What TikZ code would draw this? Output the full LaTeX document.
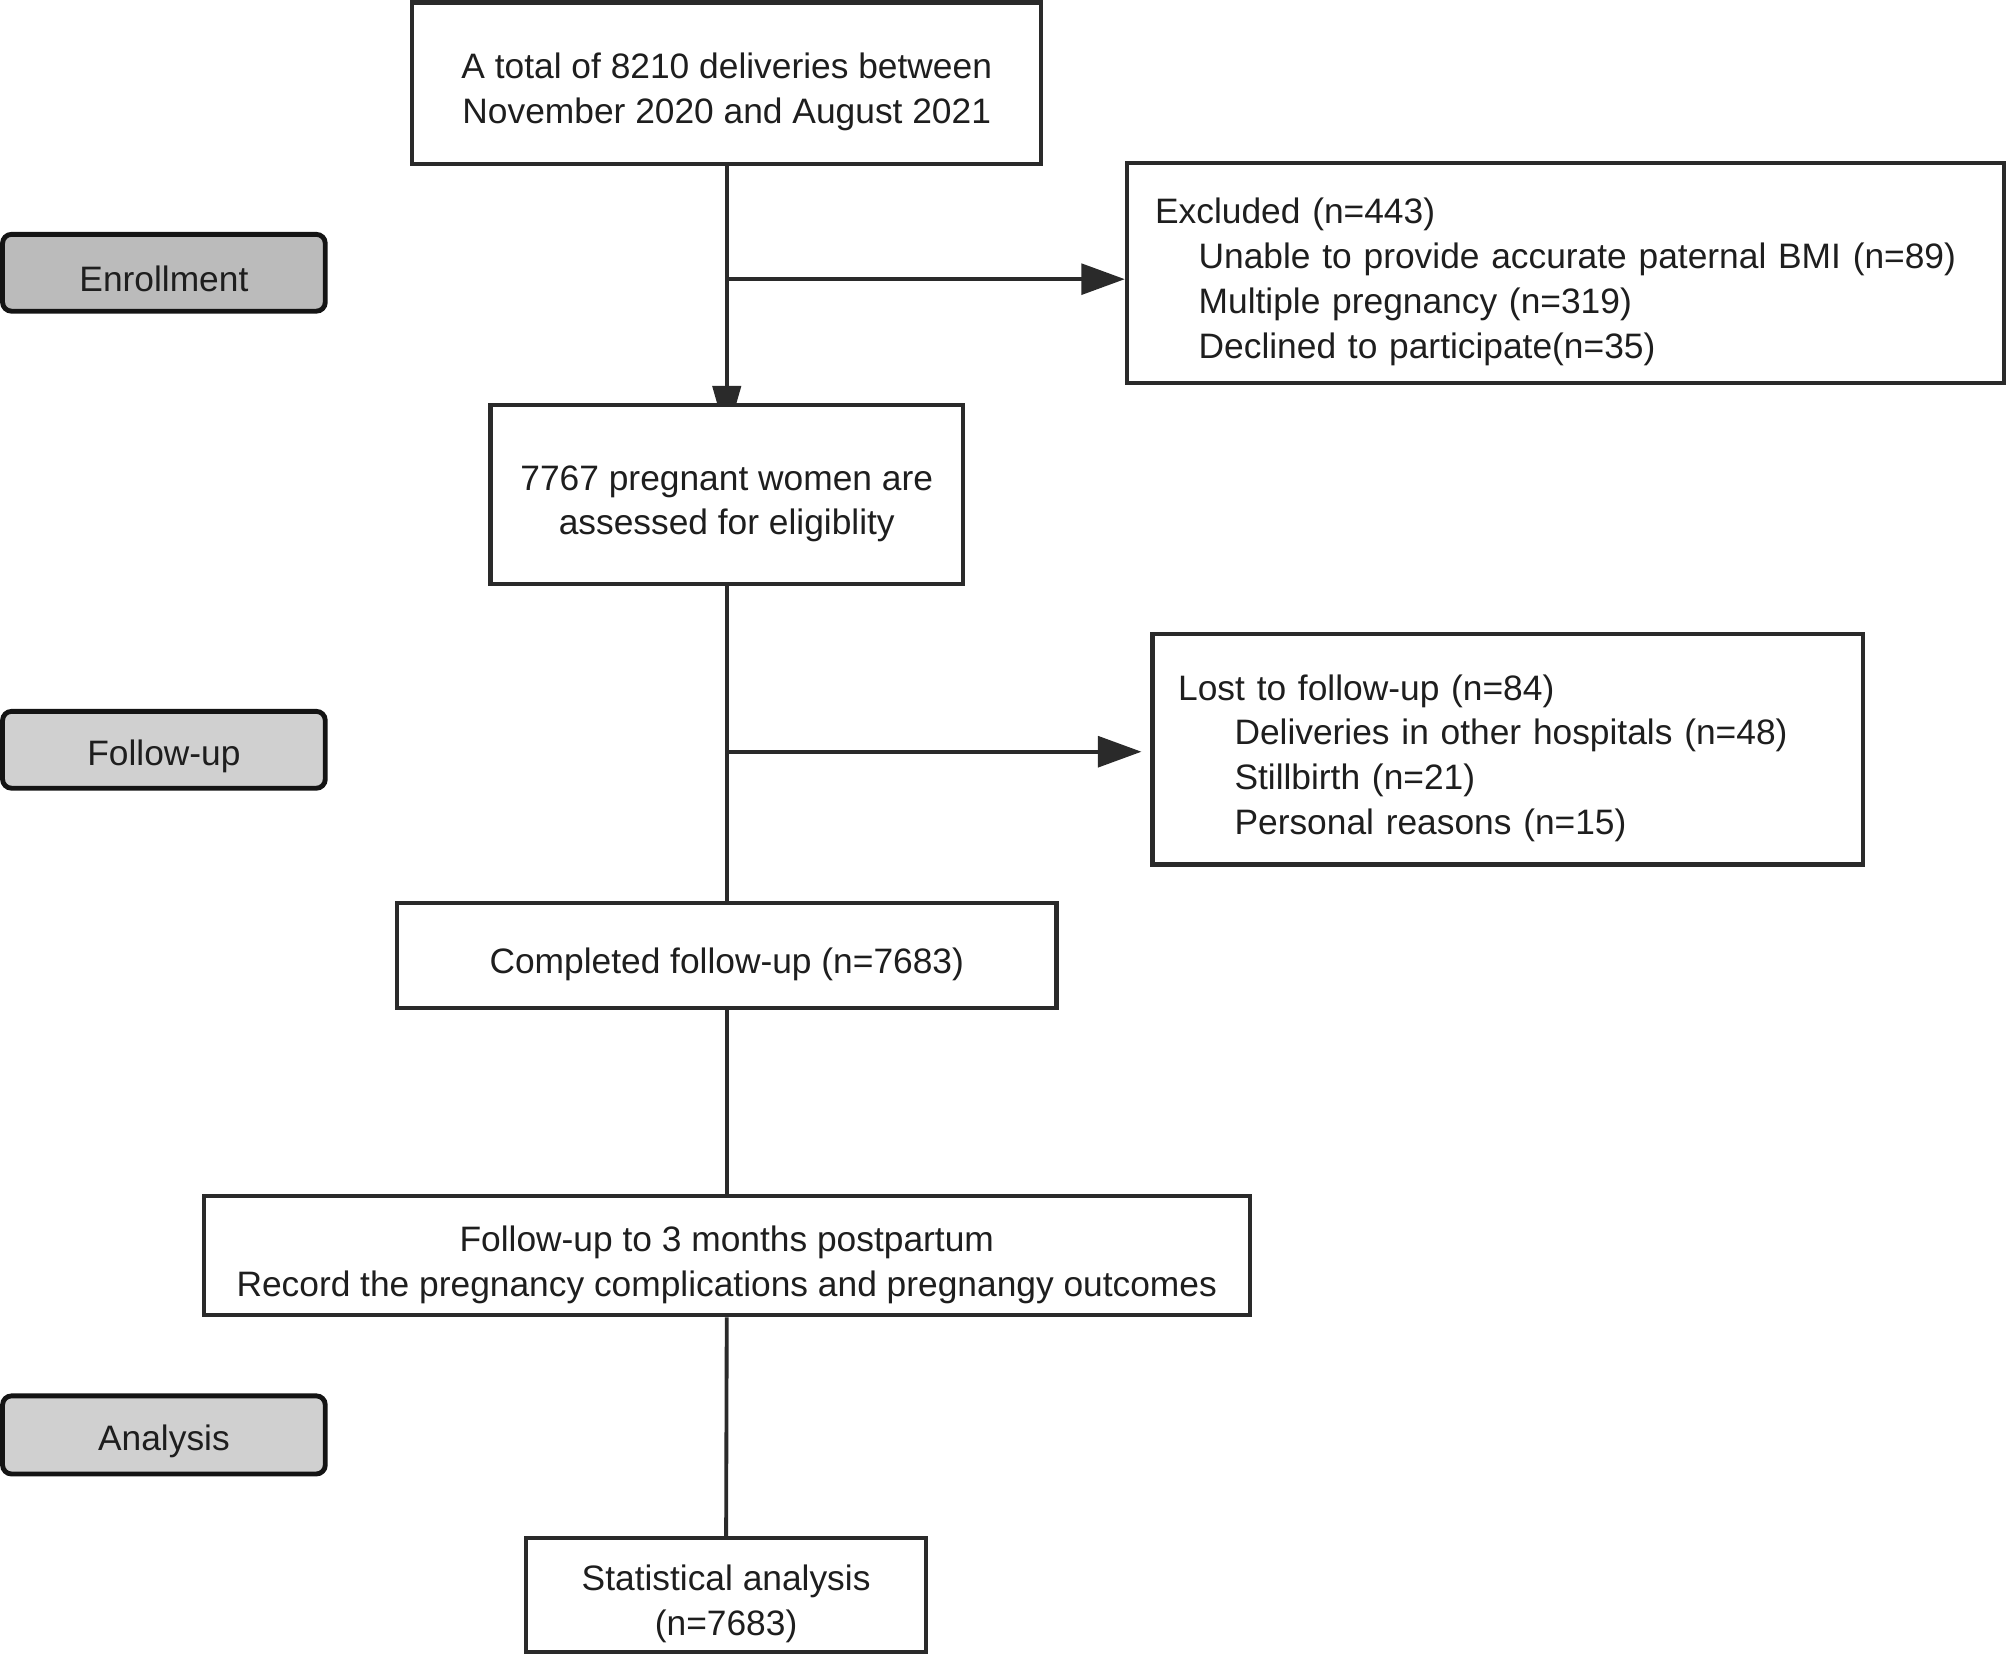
\documentclass[tikz,border=0pt]{standalone}
\usepackage{fontspec}
\setmainfont{Liberation Sans}
\usetikzlibrary{arrows.meta,backgrounds}
\definecolor{ink}{HTML}{1E1E1E}
\definecolor{lineC}{HTML}{2A2A2A}
\definecolor{grayA}{HTML}{BBBBBB}
\definecolor{grayB}{HTML}{D0D0D0}
\newcommand\tstrut{\rule{0pt}{34pt}}
\begin{document}
\begin{tikzpicture}[x=1pt,y=-1pt,
  txt/.style={font=\fontsize{27.6}{35}\selectfont, text=ink},
  box/.style={draw=lineC, line width=3.3pt, fill=white, inner sep=0pt, txt, align=center},
  stage/.style={draw=black!92, line width=3.8pt, rounded corners=7pt, minimum width=252pt, minimum height=60pt, inner sep=0pt, txt, execute at begin node={\rule{0pt}{30pt}}},
  conn/.style={draw=lineC, line width=3pt},
  tip/.style={-{Triangle[length=34pt,width=24pt]}}]
\useasboundingbox (0,0) rectangle (1568,1292);

\node[box, minimum width=491pt, minimum height=126pt] (total) at (567.5,65)
  {\tstrut A total of 8210 deliveries between\\ November 2020 and August 2021};
\node[box, minimum width=685pt, minimum height=172pt, align=left, text width=641pt] (excl) at (1222.5,213)
  {\tstrut Excluded (n=443)\\
   \hspace*{34pt}Unable to provide accurate paternal BMI (n=89)\\
   \hspace*{34pt}Multiple pregnancy (n=319)\\
   \hspace*{34pt}Declined to participate(n=35)};
\node[box, minimum width=369pt, minimum height=140pt] (assess) at (567.5,386)
  {\tstrut 7767 pregnant women are\\ assessed for eligiblity};
\node[box, minimum width=555pt, minimum height=180pt, align=left, text width=515pt] (lost) at (1177.5,585)
  {\tstrut Lost to follow-up (n=84)\\
   \hspace*{44pt}Deliveries in other hospitals (n=48)\\
   \hspace*{44pt}Stillbirth (n=21)\\
   \hspace*{44pt}Personal reasons (n=15)};
\node[box, minimum width=515pt, minimum height=82pt] (done) at (567.5,746)
  {\tstrut Completed follow-up (n=7683)};
\node[box, minimum width=817pt, minimum height=93pt] (post) at (567.5,980.5)
  {\tstrut Follow-up to 3 months postpartum\\ Record the pregnancy complications and pregnangy outcomes};
\node[box, minimum width=312pt, minimum height=89pt] (stat) at (567,1245.5)
  {\tstrut Statistical analysis\\ (n=7683)};

\node[stage, fill=grayA] (enroll) at (128,213) {Enrollment};
\node[stage, fill=grayB] (follow) at (128,585.5) {Follow-up};
\node[stage, fill=grayB, minimum height=61pt] (analysis) at (128,1120.5) {Analysis};

\coordinate (b1) at (total.south |- 0,218);
\coordinate (b2) at (total.south |- 0,587);

\begin{pgfonlayer}{background}
\draw[conn, -{Triangle[length=40pt,width=22pt]}, shorten >=-27pt] (total.south) -- (assess.north);
\draw[conn, tip] (b1) -- (b1 -| excl.west);
\draw[conn] (assess.south) -- (done.north);
\draw[conn, tip, shorten >=7pt] (b2) -- (b2 -| lost.west);
\draw[conn] (done.south) -- (post.north);
\draw[conn] (post.south) -- (stat.north);
\end{pgfonlayer}
\end{tikzpicture}
\end{document}
